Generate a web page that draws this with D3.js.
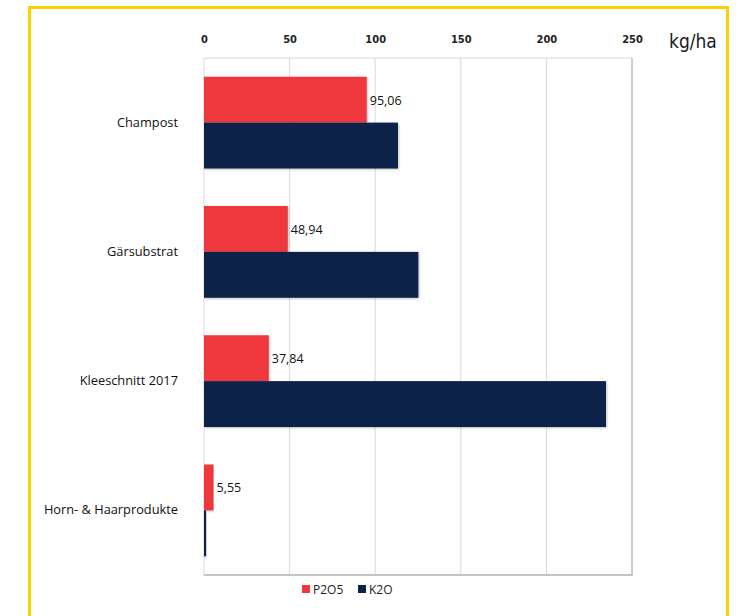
<!DOCTYPE html>
<html>
<head>
<meta charset="utf-8">
<script src="https://cdn.jsdelivr.net/npm/d3@7"></script>
<style>
  html, body { margin: 0; padding: 0; background: #fff; }
  svg { display: block; }
</style>
</head>
<body>
<script>
// Nährstoffgehalte je Dünger (kg/ha)
const categories = ["Champost", "Gärsubstrat", "Kleeschnitt 2017", "Horn- & Haarprodukte"];
const seriesNames = ["P2O5", "K2O"];
const p2o5 = [95.06, 48.94, 37.84, 5.55];
const k2o = [113.3, 125.2, 234.8, 1.2];
const tickValues = [0, 50, 100, 150, 200, 250];
const unitLabel = "kg/ha";
const colors = ["#EE373D", "#0D2148"];

const W = 745, H = 616;
const margin = { left: 204, right: 113, top: 58, bottom: 41 };

const svg = d3.select("body").append("svg")
  .attr("width", W).attr("height", H);

// subtle shadow under bars
const defs = svg.append("defs");
const f = defs.append("filter").attr("id", "sh").attr("x", "-5%").attr("y", "-10%").attr("width", "110%").attr("height", "130%");
f.append("feDropShadow").attr("dx", 1).attr("dy", 1).attr("stdDeviation", 0.8)
  .attr("flood-color", "#000").attr("flood-opacity", 0.25);

// yellow frame
svg.append("rect")
  .attr("x", 29.5).attr("y", 7.5).attr("width", 698).attr("height", 640)
  .attr("fill", "none").attr("stroke", "#FFD000").attr("stroke-width", 3);

const x = d3.scaleLinear().domain([0, 250]).range([margin.left, W - margin.right]);
const y0 = d3.scaleBand().domain(categories).range([margin.top, H - margin.bottom]).paddingInner(0.29).paddingOuter(0.145);
const y1 = d3.scaleBand().domain(seriesNames).range([0, y0.bandwidth()]).padding(0);

const plotTop = margin.top, plotBottom = H - margin.bottom;

// gridlines
svg.append("g").selectAll("line").data(tickValues).join("line")
  .attr("x1", d => x(d)).attr("x2", d => x(d))
  .attr("y1", plotTop).attr("y2", plotBottom)
  .attr("stroke", "#d9d9d9").attr("stroke-width", 1);
// top border of plot
svg.append("line")
  .attr("x1", x(0)).attr("x2", x(250)).attr("y1", plotTop).attr("y2", plotTop)
  .attr("stroke", "#d9d9d9");

// top axis labels
const axis = d3.axisTop(x).tickValues(tickValues).tickSize(0).tickPadding(0);
const ag = svg.append("g").attr("transform", `translate(0,${plotTop - 15})`).call(axis);
ag.select(".domain").remove();
ag.selectAll("text")
  .attr("font-family", "'Liberation Sans Narrow', 'DejaVu Sans Condensed', sans-serif")
  .attr("font-weight", "bold").attr("font-size", 11).attr("fill", "#222");

svg.append("text")
  .attr("x", 669).attr("y", 48)
  .attr("font-family", "'Liberation Sans Narrow', 'DejaVu Sans Condensed', sans-serif")
  .attr("font-size", 19).attr("fill", "#1a1a1a").text(unitLabel);

// bars
const rows = categories.map((c, i) => ({ cat: c, vals: [p2o5[i], k2o[i]] }));
const groups = svg.append("g").selectAll("g").data(rows).join("g")
  .attr("transform", d => `translate(0,${y0(d.cat)})`);

groups.selectAll("rect").data(d => d.vals.map((v, j) => ({ v, s: seriesNames[j], j }))).join("rect")
  .attr("x", x(0))
  .attr("y", d => y1(d.s))
  .attr("width", d => x(d.v) - x(0))
  .attr("height", y1.bandwidth())
  .attr("fill", d => colors[d.j])
  .attr("filter", "url(#sh)");

// value labels on P2O5 bars
groups.append("text")
  .attr("x", d => x(d.vals[0]) + 3)
  .attr("y", y1("P2O5") + y1.bandwidth() / 2 + 5)
  .attr("font-family", "'Open Sans', sans-serif").attr("font-size", 12.5).attr("fill", "#111")
  .text(d => d3.format(".2f")(d.vals[0]).replace(".", ","));

// category labels
groups.append("text")
  .attr("x", 178).attr("y", y0.bandwidth() / 2 + 4)
  .attr("text-anchor", "end")
  .attr("font-family", "'Open Sans', sans-serif").attr("font-size", 12.8).attr("fill", "#111")
  .text(d => d.cat);

// bottom axis line
svg.append("line")
  .attr("x1", x(0)).attr("x2", x(250) + 1).attr("y1", plotBottom).attr("y2", plotBottom)
  .attr("stroke", "#c4c4c4").attr("stroke-width", 2);
svg.append("line")
  .attr("x1", x(250)).attr("x2", x(250)).attr("y1", plotTop).attr("y2", plotBottom)
  .attr("stroke", "#c4c4c4").attr("stroke-width", 1.5);

// legend
const legend = svg.append("g").attr("transform", "translate(302,591)");
const li = legend.selectAll("g").data(seriesNames).join("g")
  .attr("transform", (d, i) => `translate(${i * 56},0)`);
li.append("rect").attr("x", 0).attr("y", -6).attr("width", 8).attr("height", 8)
  .attr("fill", (d, i) => colors[i]);
li.append("text").attr("x", 11).attr("y", 3)
  .attr("font-family", "'Open Sans', sans-serif").attr("font-size", 12).attr("fill", "#222")
  .text(d => d);
</script>
</body>
</html>
